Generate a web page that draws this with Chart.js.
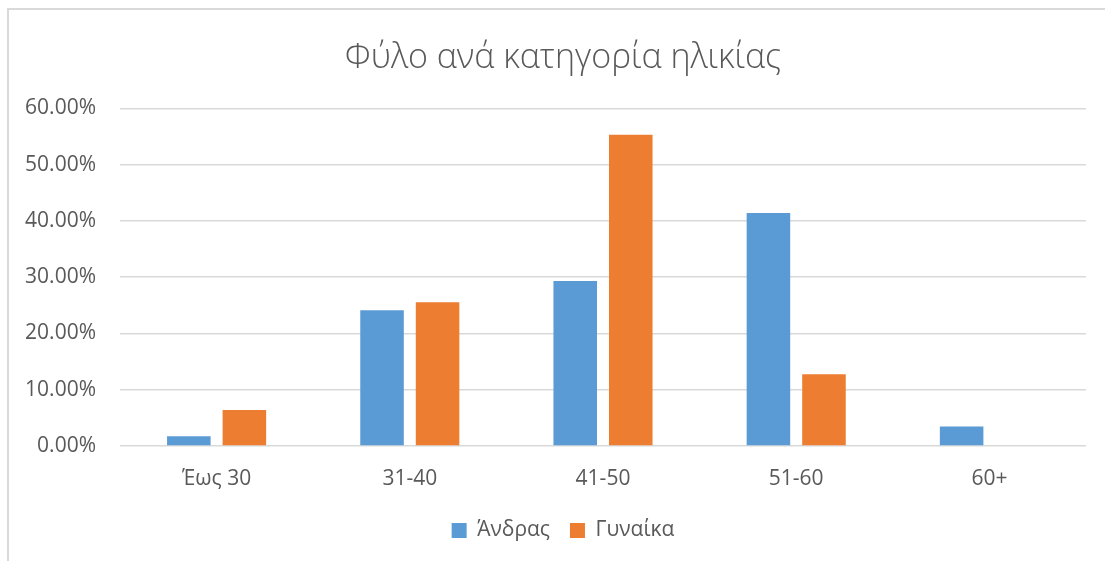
<!DOCTYPE html>
<html>
<head>
<meta charset="utf-8">
<title>Φύλο ανά κατηγορία ηλικίας</title>
<script src="https://cdn.jsdelivr.net/npm/chart.js"></script>
<style>
  html, body { margin: 0; padding: 0; background: #fff; overflow: hidden; }
  #frame {
    position: absolute; left: 7px; top: 8px; width: 1200px; height: 700px;
    border-left: 2px solid #d9d9d9; border-top: 2px solid #d9d9d9;
  }
  #wrap { position: absolute; left: 0; top: 0; width: 1105px; height: 561px; }
</style>
</head>
<body>
<div id="frame"></div>
<div id="wrap"><canvas id="grafico"></canvas></div>
<script>
  // Κατηγορίες ηλικίας και ποσοστά ανά φύλο (%)
  const categories = ["Έως 30", "31-40", "41-50", "51-60", "60+"];
  const andras = [1.72, 24.14, 29.31, 41.38, 3.45];
  const gynaika = [6.38, 25.53, 55.32, 12.77, 0];
  const yTicks = [0, 10, 20, 30, 40, 50, 60];

  const textColor = "#595959";
  const fontFamily = "'Open Sans', 'DejaVu Sans', sans-serif";

  // τίτλος και υπόμνημα κεντραρισμένα στο πλαίσιο του γραφήματος, όχι στον καμβά
  const centerBoxes = {
    id: "centerBoxes",
    afterLayout(chart) {
      chart.titleBlock.left += 20;
      chart.legend.left += 20;
    }
  };

  const ctx = document.getElementById("grafico").getContext("2d");
  new Chart(ctx, {
    type: "bar",
    data: {
      labels: categories,
      datasets: [
        { label: "Άνδρας", data: andras, backgroundColor: "#5B9BD5",
          categoryPercentage: 0.575, barPercentage: 0.784 },
        { label: "Γυναίκα", data: gynaika, backgroundColor: "#ED7D31",
          categoryPercentage: 0.575, barPercentage: 0.784 }
      ]
    },
    plugins: [centerBoxes],
    options: {
      responsive: true,
      maintainAspectRatio: false,
      animation: false,
      layout: { padding: { left: 20, right: 19, top: 0, bottom: 10 } },
      plugins: {
        title: {
          display: true,
          text: "Φύλο ανά κατηγορία ηλικίας",
          color: textColor,
          font: { family: fontFamily, size: 34, weight: "300" },
          padding: { top: 38, bottom: 29.5 }
        },
        legend: {
          position: "bottom",
          labels: {
            color: textColor,
            font: { family: fontFamily, size: 21 },
            boxWidth: 15,
            boxHeight: 15,
            padding: 20
          }
        },
        tooltip: { enabled: false }
      },
      scales: {
        x: {
          grid: { display: false },
          border: { display: false },
          ticks: { color: textColor, font: { family: fontFamily, size: 21 }, padding: 12 },
          afterFit: (axis) => { axis.height = 54; }
        },
        y: {
          min: 0,
          max: 60,
          afterBuildTicks: (axis) => { axis.ticks = yTicks.map(v => ({ value: v })); },
          grid: { color: "#d9d9d9", lineWidth: 1.5, drawTicks: false },
          border: { display: false },
          ticks: {
            color: textColor,
            font: { family: fontFamily, size: 21 },
            padding: 24,
            callback: (v) => v.toFixed(2) + "%"
          },
          afterFit: (axis) => { axis.width = 100; }
        }
      }
    }
  });
</script>
</body>
</html>
